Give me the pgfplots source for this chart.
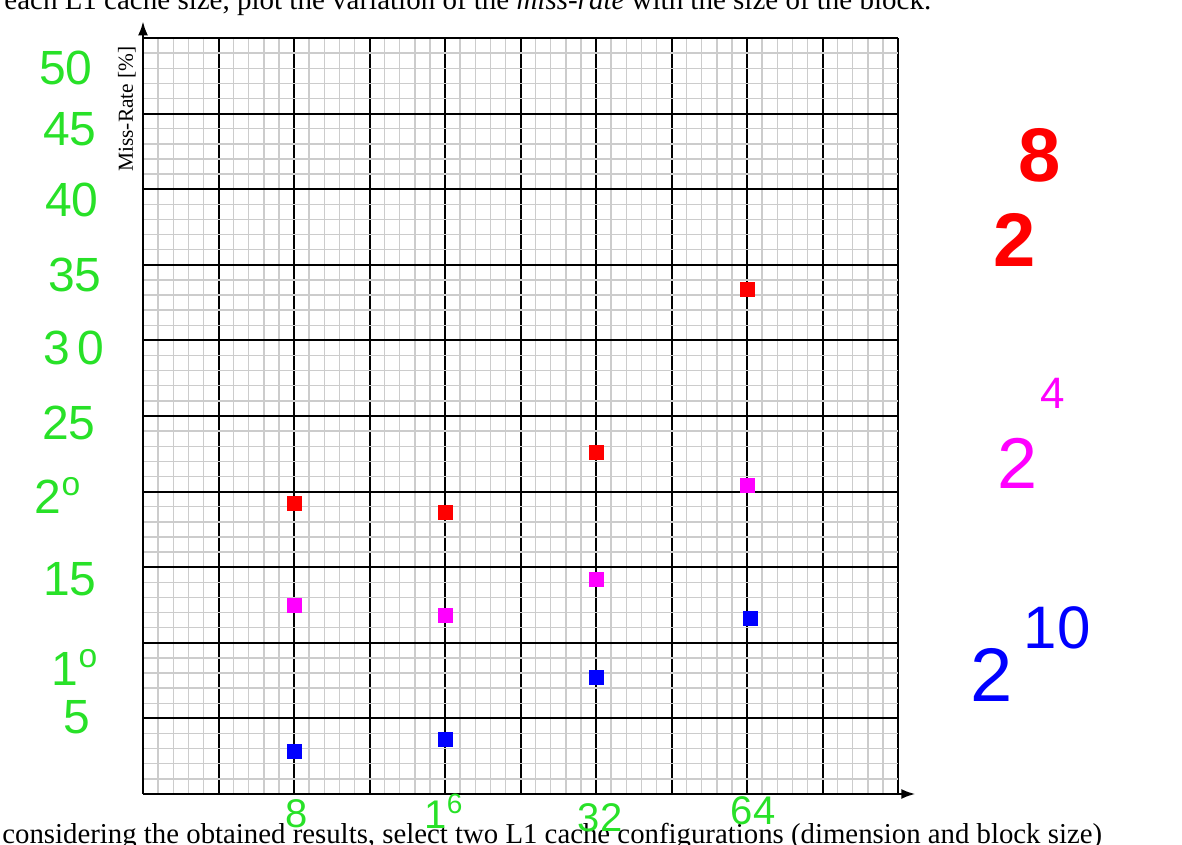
\documentclass[border=0pt]{standalone}
\usepackage{pgfplots}
\pgfplotsset{compat=1.18}
\usepackage{fontspec}
\setmainfont{Liberation Serif}
\newfontfamily\hand{Liberation Sans}
\usetikzlibrary{arrows.meta}
\definecolor{hgreen}{RGB}{40,225,40}
\definecolor{hred}{RGB}{255,0,0}
\definecolor{hmag}{RGB}{255,0,255}
\definecolor{hblue}{RGB}{0,0,255}
\begin{document}
\begin{tikzpicture}
\useasboundingbox (0,0) rectangle (591pt,422.5pt);
\begin{axis}[
	at={(71.5pt,25.5pt)}, anchor=origin,
	scale only axis,
	width=377.5pt, height=378pt,
	xmin=0, xmax=10, ymin=0, ymax=50,
	xtick={0,1,...,10}, ytick={0,5,...,50},
	minor x tick num=4, minor y tick num=4,
	xticklabels={}, yticklabels={},
	tick style={draw=none},
	grid=both,
	major grid style={black, line width=1pt},
	minor grid style={black!20, line width=0.7pt},
	axis line style={draw=none},
	clip=false,
	only marks,
	mark=square*,
	mark size=3.5pt,
]
% x positions 2,4,6,8 -> block size 8,16,32,64
\addplot[hred, mark=square*] coordinates {(2,19.2) (4,18.6) (6,22.6) (8,33.4)};
\addplot[hmag, mark=square*] coordinates {(2,12.5) (4,11.8) (6,14.2) (8,20.4)};
\addplot[hblue, mark=square*] coordinates {(2,2.8) (4,3.6) (6,7.7) (8.05,11.6)};
\draw[line width=1.1pt, -{Latex[length=7pt,width=5pt]}] (axis cs:0,0) -- (axis cs:10.23,0);
\draw[line width=1.1pt, -{Latex[length=7pt,width=5pt]}] (axis cs:0,0) -- (axis cs:0,51.1);
\end{axis}
\begin{scope}[x=0.5pt,y=0.5pt]
% printed text
\node[anchor=base west, inner sep=0, font=\fontsize{14.5}{16}\selectfont] at (4,835)
  {each L1 cache size, plot the variation of the \textit{miss-rate} with the size of the block.};
\node[anchor=base west, inner sep=0, font=\fontsize{14.4}{16}\selectfont] at (2,2)
  {considering the obtained results, select two L1 cache configurations (dimension and block size)};
\node[rotate=90, inner sep=0, font=\fontsize{10.7}{12}\selectfont] at (127,736) {Miss-Rate [\%]};
% handwritten y labels
\begin{scope}[every node/.style={text=hgreen, inner sep=0, font=\hand\fontsize{24}{24}\selectfont}]
\node at (66,777) {50};
\node at (70,716) {45};
\node at (72,645) {40};
\node at (75,570) {35};
\node at (74,497) {3\,0};
\node at (69,422) {25};
\node at (58,350) {2\textsuperscript{o}};
\node at (70,266) {15};
\node at (75,178) {1\textsuperscript{o}};
\node at (77,128) {5};
\end{scope}
\begin{scope}[every node/.style={text=hgreen, inner sep=0, font=\hand\fontsize{20}{20}\selectfont}]
\node at (297,31) {8};
\node at (444,34) {1\textsuperscript{6}};
\node at (600,27) {32};
\node at (753,34) {64};
\end{scope}
% handwritten exponents
\node[text=hred, inner sep=0, font=\hand\bfseries\fontsize{38}{38}\selectfont] at (1015,605) {2};
\node[text=hred, inner sep=0, font=\hand\bfseries\fontsize{38}{38}\selectfont] at (1040,690) {8};
\node[text=hmag, inner sep=0, font=\hand\fontsize{36}{36}\selectfont] at (1018,382) {2};
\node[text=hmag, inner sep=0, font=\hand\fontsize{22}{22}\selectfont] at (1053,452) {4};
\node[text=hblue, inner sep=0, font=\hand\fontsize{38}{38}\selectfont] at (992,170) {2};
\node[text=hblue, inner sep=0, font=\hand\fontsize{30}{30}\selectfont] at (1057,217) {10};
\end{scope}
\end{tikzpicture}
\end{document}
